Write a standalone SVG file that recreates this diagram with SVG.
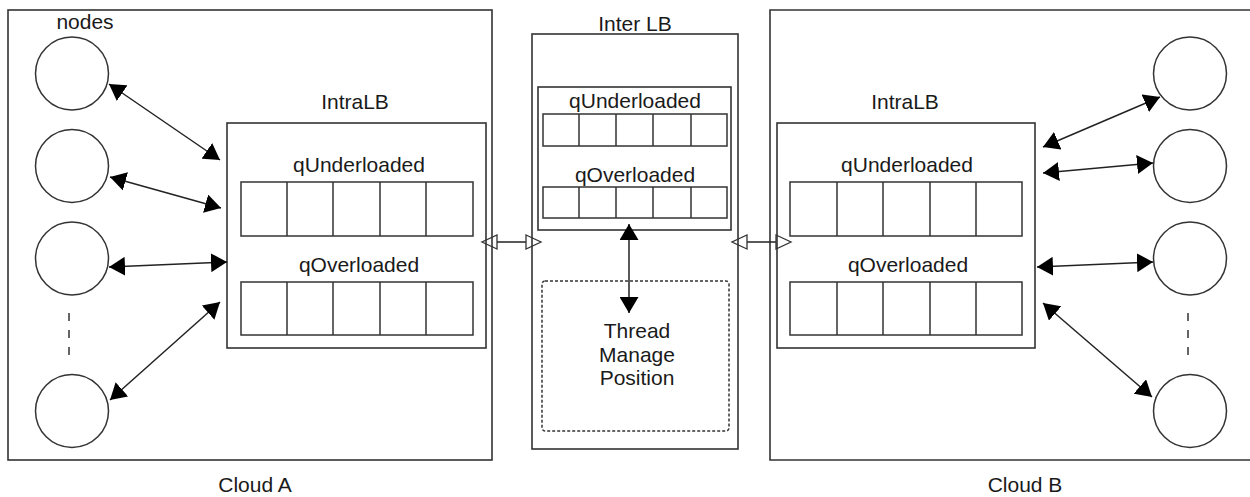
<svg xmlns="http://www.w3.org/2000/svg" width="1250" height="497" viewBox="0 0 1250 497">
<style>
  .box{fill:none;stroke:#333;stroke-width:1.6}
  .cell{fill:none;stroke:#333;stroke-width:1.5}
  .node{fill:#fff;stroke:#333;stroke-width:1.5}
  .t{font-family:"Liberation Sans",Arial,sans-serif;font-size:21px;fill:#1a1a1a;text-anchor:middle}
  .c{fill:none;stroke:#222;stroke-width:1.5}
  .dash{fill:none;stroke:#333;stroke-width:1.5;stroke-dasharray:3,2}
  .vdash{fill:none;stroke:#333;stroke-width:1.5;stroke-dasharray:8,9}
</style>
<defs>
  <marker id="ah" markerUnits="userSpaceOnUse" markerWidth="17" markerHeight="19" refX="16" refY="9.5" orient="auto-start-reverse" viewBox="0 0 17 19">
    <path d="M0,0 L16,9.5 L0,19 z" fill="#000"/>
  </marker>
  <marker id="hollow" markerUnits="userSpaceOnUse" markerWidth="18" markerHeight="18" refX="1" refY="8" orient="auto-start-reverse" viewBox="0 0 18 16">
    <path d="M1,1 L16,8 L1,15 z" fill="none" stroke="#333" stroke-width="1.3"/>
  </marker>
</defs>

<g id="cloudA">
  <rect class="box" x="8" y="10" width="484" height="450"/>
  <text class="t" x="255" y="492">Cloud A</text>
  <text class="t" x="85" y="29">nodes</text>
</g>
<g id="nodesA">
  <circle id="nodeA1" class="node" cx="72" cy="73.5" r="36.5"/>
  <circle id="nodeA2" class="node" cx="72" cy="166" r="36.5"/>
  <circle id="nodeA3" class="node" cx="72" cy="258.5" r="36.5"/>
  <line class="vdash" x1="69" y1="313" x2="69" y2="363"/>
  <circle id="nodeA4" class="node" cx="72" cy="411" r="36.5"/>
</g>
<g id="intraA">
  <text class="t" x="355" y="109">IntraLB</text>
  <rect class="box" x="227" y="123" width="259" height="225"/>
  <text class="t" x="359" y="172">qUnderloaded</text>
  <rect class="cell" x="241" y="182" width="232" height="54"/>
  <path class="cell" d="M287,182V236M333,182V236M380,182V236M426,182V236"/>
  <text class="t" x="359" y="272">qOverloaded</text>
  <rect class="cell" x="241" y="282" width="232" height="53"/>
  <path class="cell" d="M287,282V335M333,282V335M380,282V335M426,282V335"/>
</g>

<g id="interLB">
  <text class="t" x="635" y="31">Inter LB</text>
  <rect class="box" x="532" y="34" width="206" height="415"/>
  <rect class="box" x="538" y="87" width="193" height="143"/>
  <text class="t" x="635" y="108">qUnderloaded</text>
  <rect class="cell" x="543" y="114" width="184" height="32"/>
  <path class="cell" d="M579,114V146M616,114V146M653,114V146M691,114V146"/>
  <text class="t" x="635" y="182">qOverloaded</text>
  <rect class="cell" x="543" y="187" width="184" height="31"/>
  <path class="cell" d="M579,187V218M616,187V218M653,187V218M691,187V218"/>
</g>
<g id="thread">
  <rect class="dash" x="542" y="281" width="187" height="150" rx="3"/>
  <text class="t" x="637" y="338">Thread</text>
  <text class="t" x="637" y="362">Manage</text>
  <text class="t" x="637" y="385">Position</text>
</g>

<g id="cloudB">
  <path class="box" d="M1252,10H770V460H1252"/>
  <text class="t" x="1025" y="492">Cloud B</text>
</g>
<g id="intraB">
  <text class="t" x="905" y="109">IntraLB</text>
  <rect class="box" x="777" y="123" width="258" height="225"/>
  <text class="t" x="907" y="172">qUnderloaded</text>
  <rect class="cell" x="790" y="182" width="232" height="54"/>
  <path class="cell" d="M837,182V236M883,182V236M930,182V236M976,182V236"/>
  <text class="t" x="908" y="272">qOverloaded</text>
  <rect class="cell" x="790" y="282" width="232" height="53"/>
  <path class="cell" d="M837,282V335M883,282V335M930,282V335M976,282V335"/>
</g>
<g id="nodesB">
  <circle id="nodeB1" class="node" cx="1190" cy="73.5" r="36.5"/>
  <circle id="nodeB2" class="node" cx="1190" cy="166" r="36.5"/>
  <circle id="nodeB3" class="node" cx="1190" cy="258.5" r="36.5"/>
  <line class="vdash" x1="1188" y1="313" x2="1188" y2="363"/>
  <circle id="nodeB4" class="node" cx="1190" cy="411" r="36.5"/>
</g>

<g id="connectors">
  <line class="c" x1="109" y1="84" x2="220" y2="160" marker-start="url(#ah)" marker-end="url(#ah)"/>
  <line class="c" x1="110" y1="177" x2="221" y2="208" marker-start="url(#ah)" marker-end="url(#ah)"/>
  <line class="c" x1="109" y1="267" x2="227" y2="262" marker-start="url(#ah)" marker-end="url(#ah)"/>
  <line class="c" x1="110" y1="400" x2="220" y2="302" marker-start="url(#ah)" marker-end="url(#ah)"/>

  <line class="c" x1="1043" y1="147" x2="1160" y2="97" marker-start="url(#ah)" marker-end="url(#ah)"/>
  <line class="c" x1="1043" y1="173" x2="1153" y2="163" marker-start="url(#ah)" marker-end="url(#ah)"/>
  <line class="c" x1="1037" y1="267" x2="1153" y2="262" marker-start="url(#ah)" marker-end="url(#ah)"/>
  <line class="c" x1="1043" y1="303" x2="1152" y2="397" marker-start="url(#ah)" marker-end="url(#ah)"/>

  <line class="c" x1="629" y1="224" x2="629" y2="313" marker-start="url(#ah)" marker-end="url(#ah)"/>

  <line class="c" x1="497" y1="242" x2="526" y2="242" marker-start="url(#hollow)" marker-end="url(#hollow)"/>
  <line class="c" x1="747" y1="242" x2="776" y2="242" marker-start="url(#hollow)" marker-end="url(#hollow)"/>
</g>
</svg>
